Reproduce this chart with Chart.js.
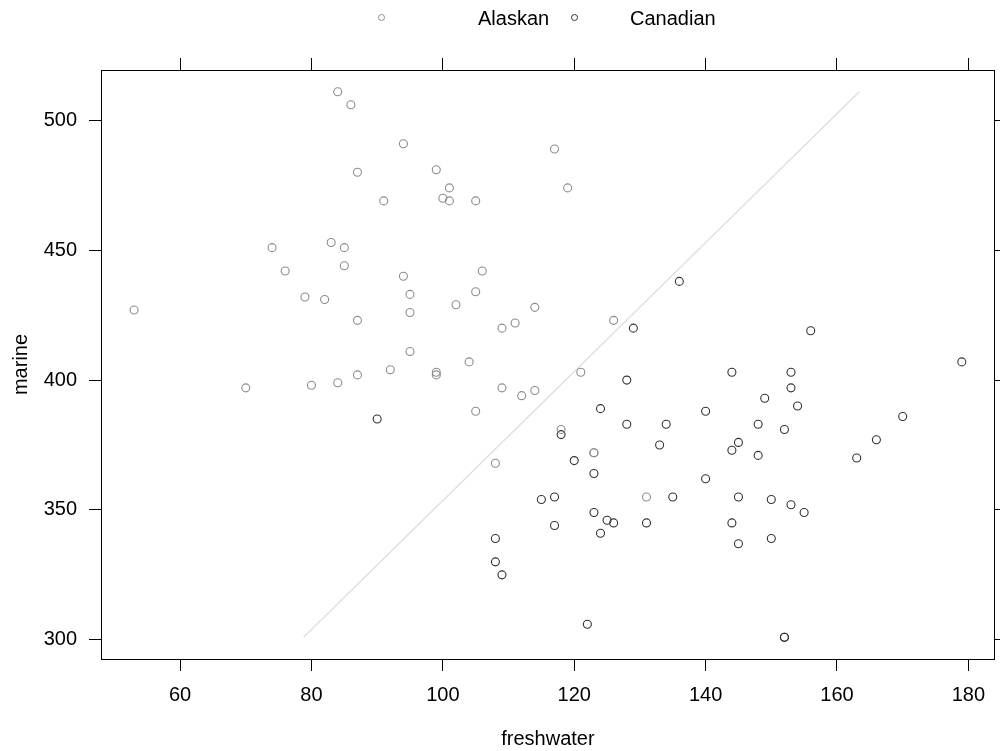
<!DOCTYPE html>
<html>
<head>
<meta charset="utf-8">
<script src="https://cdn.jsdelivr.net/npm/chart.js@4.4.1/dist/chart.umd.min.js"></script>
<style>
  html, body { margin: 0; padding: 0; background: #fff; }
  #wrap { position: relative; width: 1000px; height: 751px; font-family: "Liberation Sans", Arial, sans-serif; }
  #chart { position: absolute; left: 0; top: 0; }
  .key { position: absolute; font-size: 20px; line-height: 24px; top: 6px; color: #000; }
  .dot { position: absolute; width: 7px; height: 7px; border-radius: 50%; border: 1px solid; top: 14px; box-sizing: border-box; }
</style>
</head>
<body>
<div id="wrap">
  <canvas id="chart" width="1000" height="751"></canvas>
  <span class="dot" style="left:378px;border-color:#8c8c8c"></span>
  <span class="key" style="left:478px">Alaskan</span>
  <span class="dot" style="left:571px;border-color:#333333"></span>
  <span class="key" style="left:630px">Canadian</span>
</div>
<script>
// salmon growth-ring diameters
var alaskanFresh = [108, 131, 105, 86, 99, 87, 94, 117, 79, 99, 114, 123, 123, 109, 112, 104, 111, 126, 105, 119,
                    114, 100, 84, 102, 101, 85, 109, 106, 82, 118, 105, 121, 85, 83, 53, 95, 76, 95, 87, 70,
                    84, 91, 74, 101, 80, 95, 92, 99, 94, 87];
var alaskanMarine = [368, 355, 469, 506, 402, 423, 440, 489, 432, 403, 428, 372, 372, 420, 394, 407, 422, 423, 434, 474,
                     396, 470, 399, 429, 469, 444, 397, 442, 431, 381, 388, 403, 451, 453, 427, 411, 442, 426, 402, 397,
                     511, 469, 451, 474, 398, 433, 404, 481, 491, 480];

var canadianFresh = [90, 118, 129, 136, 128, 124, 128, 134, 133, 120, 123, 115, 117, 135, 117, 123, 125, 126, 124, 131,
                     108, 108, 109, 122, 156, 179, 144, 153, 153, 149, 154, 140, 170, 148, 152, 166, 145, 144, 148, 163,
                     140, 145, 150, 153, 155, 144, 145, 150, 152, 152];
var canadianMarine = [385, 379, 420, 438, 400, 389, 383, 383, 375, 369, 364, 354, 355, 355, 344, 349, 346, 345, 341, 345,
                      339, 330, 325, 306, 419, 407, 403, 403, 397, 393, 390, 388, 386, 383, 381, 377, 376, 373, 371, 370,
                      362, 355, 354, 352, 349, 345, 337, 339, 301, 301];

// boundary line end points (freshwater, marine)
var lineFresh = [78.8, 163.4];
var lineMarine = [301, 511];

var xTicks = [60, 80, 100, 120, 140, 160, 180];
var yTicks = [300, 350, 400, 450, 500];
var xLimits = [47.96, 184.04];
var yLimits = [292.6, 519.4];

function pairs(xs, ys) {
    return xs.map(function (x, i) { return { x: x, y: ys[i] }; });
}

var labelFont = { family: '"Liberation Sans", Arial, sans-serif', size: 20 };

function axis(position, showLabels, ticks, limits, size, title) {
    var horizontal = position === 'top' || position === 'bottom';
    return {
        type: 'linear',
        position: position,
        min: limits[0],
        max: limits[1],
        afterBuildTicks: function (scale) {
            scale.ticks = ticks.map(function (v) { return { value: v }; });
        },
        afterFit: function (scale) {
            if (horizontal) scale.height = size; else scale.width = size;
        },
        grid: { drawOnChartArea: false, drawTicks: true, tickLength: 12, color: '#000', lineWidth: 1 },
        border: { display: true, color: '#000', width: 1 },
        ticks: { display: showLabels, color: '#000', font: labelFont, padding: 12, maxRotation: 0 },
        title: title ? {
            display: true, text: title, color: '#000', font: labelFont,
            padding: horizontal ? { top: 0, bottom: 0 } : { top: 9, bottom: 0 }
        } : { display: false }
    };
}

var ctx = document.getElementById('chart').getContext('2d');
var salmonChart = new Chart(ctx, {
    type: 'scatter',
    data: {
        datasets: [{
            label: 'Alaskan',
            data: pairs(alaskanFresh, alaskanMarine),
            pointStyle: 'circle',
            pointRadius: 4,
            pointBorderWidth: 1.1,
            pointBackgroundColor: 'rgba(0,0,0,0)',
            pointBorderColor: '#8c8c8c',
            xAxisID: 'x', yAxisID: 'y'
        }, {
            label: 'Canadian',
            data: pairs(canadianFresh, canadianMarine),
            pointStyle: 'circle',
            pointRadius: 4,
            pointBorderWidth: 1.1,
            pointBackgroundColor: 'rgba(0,0,0,0)',
            pointBorderColor: '#333333',
            xAxisID: 'x', yAxisID: 'y'
        }, {
            label: 'boundary',
            data: pairs(lineFresh, lineMarine),
            showLine: true,
            borderColor: '#e0e0e0',
            borderWidth: 1.5,
            pointRadius: 0,
            xAxisID: 'x', yAxisID: 'y'
        }]
    },
    options: {
        responsive: false,
        animation: false,
        events: [],
        layout: { padding: 0 },
        plugins: { legend: { display: false }, tooltip: { enabled: false } },
        scales: {
            x: axis('bottom', true, xTicks, xLimits, 92, 'freshwater'),
            x2: axis('top', false, xTicks, xLimits, 70, null),
            y: axis('left', true, yTicks, yLimits, 101, 'marine'),
            y2: axis('right', false, yTicks, yLimits, 2, null)
        }
    }
});
</script>
</body>
</html>
